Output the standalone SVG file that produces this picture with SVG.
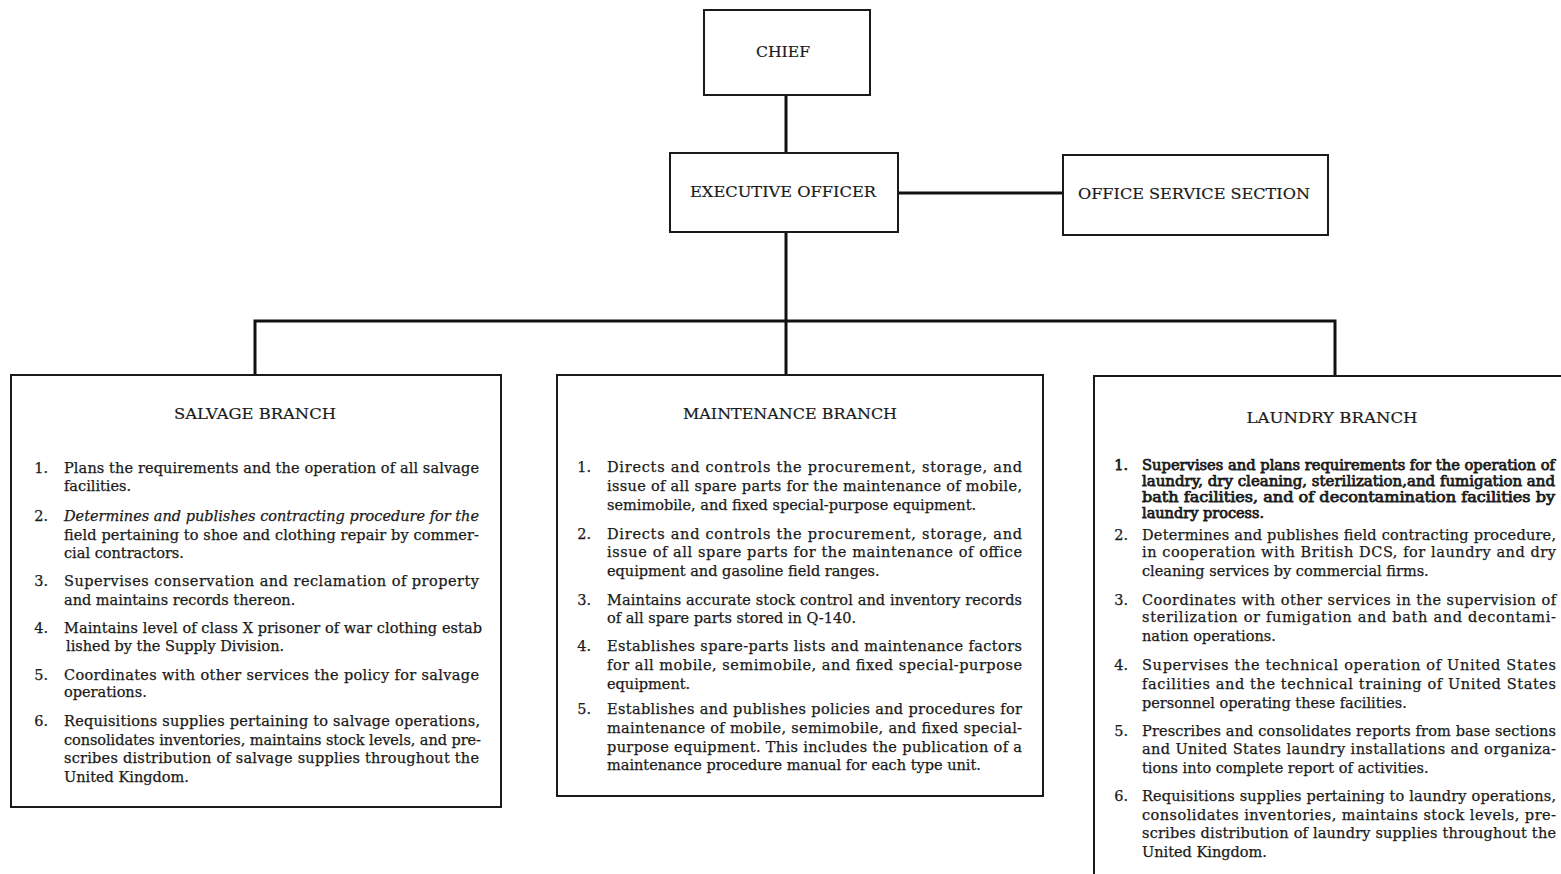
<svg xmlns="http://www.w3.org/2000/svg" width="1561" height="874" viewBox="0 0 1561 874">
  <style>
    .box { fill: none; stroke: #1a1a1a; stroke-width: 2; }
    .wire { fill: none; stroke: #111; stroke-width: 3; }
    .head { font-family: "DejaVu Serif", "Liberation Serif", serif; font-size: 15px; fill: #1a1a1a; text-anchor: middle; stroke: #1a1a1a; stroke-width: 0.2; }
    .t { font-family: "DejaVu Serif", "Liberation Serif", serif; font-size: 14.5px; fill: #1a1a1a; stroke: #1a1a1a; stroke-width: 0.25; }
    .n { font-family: "DejaVu Serif", "Liberation Serif", serif; font-size: 14.5px; fill: #1a1a1a; text-anchor: end; stroke: #1a1a1a; stroke-width: 0.25; }
    .b { stroke-width: 0.75; }
    .i { font-style: italic; }
  </style>
  <rect width="1561" height="874" fill="#ffffff"/>

  <!-- connectors -->
  <g id="connectors">
    <line class="wire" x1="786" y1="95" x2="786" y2="153"/>
    <line class="wire" x1="898" y1="193" x2="1063" y2="193"/>
    <line class="wire" x1="786" y1="232" x2="786" y2="375"/>
    <polyline class="wire" points="255,375 255,321 1335,321 1335,376"/>
  </g>

  <!-- top level -->
  <g id="chief">
    <rect class="box" x="704" y="10" width="166" height="85"/>
    <text class="head" x="783" y="57" textLength="54" lengthAdjust="spacingAndGlyphs">CHIEF</text>
  </g>
  <g id="executive-officer">
    <rect class="box" x="670" y="153" width="228" height="79"/>
    <text class="head" x="783" y="197" textLength="186" lengthAdjust="spacingAndGlyphs">EXECUTIVE OFFICER</text>
  </g>
  <g id="office-service-section">
    <rect class="box" x="1063" y="155" width="265" height="80"/>
    <text class="head" x="1194" y="199" textLength="232" lengthAdjust="spacingAndGlyphs">OFFICE SERVICE SECTION</text>
  </g>

  <!-- salvage branch -->
  <g id="salvage-branch">
    <rect class="box" x="11" y="375" width="490" height="432"/>
    <text class="head" x="255" y="419" textLength="162" lengthAdjust="spacingAndGlyphs">SALVAGE BRANCH</text>
    <text class="n" x="48" y="473">1.</text>
    <text class="t" x="64" y="473" textLength="415">Plans the requirements and the operation of all salvage</text>
    <text class="t" x="64" y="491">facilities.</text>
    <text class="n" x="48" y="521">2.</text>
    <text class="t i" x="64" y="521" textLength="415">Determines and publishes contracting procedure for the</text>
    <text class="t" x="64" y="540" textLength="415">field pertaining to shoe and clothing repair by commer-</text>
    <text class="t" x="64" y="558">cial contractors.</text>
    <text class="n" x="48" y="586">3.</text>
    <text class="t" x="64" y="586" textLength="415">Supervises conservation and reclamation of property</text>
    <text class="t" x="64" y="605">and maintains records thereon.</text>
    <text class="n" x="48" y="633">4.</text>
    <text class="t" x="64" y="633" textLength="418">Maintains level of class X prisoner of war clothing estab</text>
    <text class="t" x="66" y="651">lished by the Supply Division.</text>
    <text class="n" x="48" y="680">5.</text>
    <text class="t" x="64" y="680" textLength="415">Coordinates with other services the policy for salvage</text>
    <text class="t" x="64" y="697">operations.</text>
    <text class="n" x="48" y="726">6.</text>
    <text class="t" x="64" y="726" textLength="416">Requisitions supplies pertaining to salvage operations,</text>
    <text class="t" x="64" y="745" textLength="417">consolidates inventories, maintains stock levels, and pre-</text>
    <text class="t" x="64" y="763" textLength="415">scribes distribution of salvage supplies throughout the</text>
    <text class="t" x="64" y="782">United Kingdom.</text>
  </g>

  <!-- maintenance branch -->
  <g id="maintenance-branch">
    <rect class="box" x="557" y="375" width="486" height="421"/>
    <text class="head" x="790" y="419" textLength="214" lengthAdjust="spacingAndGlyphs">MAINTENANCE BRANCH</text>
    <text class="n" x="591" y="472">1.</text>
    <text class="t" x="607" y="472" textLength="415">Directs and controls the procurement, storage, and</text>
    <text class="t" x="607" y="491" textLength="415">issue of all spare parts for the maintenance of mobile,</text>
    <text class="t" x="607" y="510">semimobile, and fixed special-purpose equipment.</text>
    <text class="n" x="591" y="539">2.</text>
    <text class="t" x="607" y="539" textLength="415">Directs and controls the procurement, storage, and</text>
    <text class="t" x="607" y="557" textLength="415">issue of all spare parts for the maintenance of office</text>
    <text class="t" x="607" y="576">equipment and gasoline field ranges.</text>
    <text class="n" x="591" y="605">3.</text>
    <text class="t" x="607" y="605" textLength="415">Maintains accurate stock control and inventory records</text>
    <text class="t" x="607" y="623">of all spare parts stored in Q-140.</text>
    <text class="n" x="591" y="651">4.</text>
    <text class="t" x="607" y="651" textLength="415">Establishes spare-parts lists and maintenance factors</text>
    <text class="t" x="607" y="670" textLength="415">for all mobile, semimobile, and fixed special-purpose</text>
    <text class="t" x="607" y="689">equipment.</text>
    <text class="n" x="591" y="714">5.</text>
    <text class="t" x="607" y="714" textLength="415">Establishes and publishes policies and procedures for</text>
    <text class="t" x="607" y="733" textLength="415">maintenance of mobile, semimobile, and fixed special-</text>
    <text class="t" x="607" y="752" textLength="415">purpose equipment. This includes the publication of a</text>
    <text class="t" x="607" y="770">maintenance procedure manual for each type unit.</text>
  </g>

  <!-- laundry branch (runs off the right and bottom edges) -->
  <g id="laundry-branch">
    <rect class="box" x="1094" y="376" width="500" height="530"/>
    <text class="head" x="1332" y="423" textLength="171" lengthAdjust="spacingAndGlyphs">LAUNDRY BRANCH</text>
    <text class="n b" x="1128" y="470">1.</text>
    <text class="t b" x="1142" y="470" textLength="413" lengthAdjust="spacingAndGlyphs">Supervises and plans requirements for the operation of</text>
    <text class="t b" x="1142" y="486" textLength="413" lengthAdjust="spacingAndGlyphs">laundry, dry cleaning, sterilization,and fumigation and</text>
    <text class="t b" x="1142" y="502" textLength="413" lengthAdjust="spacingAndGlyphs">bath facilities, and of decontamination facilities by</text>
    <text class="t b" x="1142" y="518">laundry process.</text>
    <text class="n" x="1128" y="540">2.</text>
    <text class="t" x="1142" y="540" textLength="414">Determines and publishes field contracting procedure,</text>
    <text class="t" x="1142" y="557" textLength="414">in cooperation with British DCS, for laundry and dry</text>
    <text class="t" x="1142" y="576">cleaning services by commercial firms.</text>
    <text class="n" x="1128" y="605">3.</text>
    <text class="t" x="1142" y="605" textLength="414">Coordinates with other services in the supervision of</text>
    <text class="t" x="1142" y="622" textLength="414">sterilization or fumigation and bath and decontami-</text>
    <text class="t" x="1142" y="641">nation operations.</text>
    <text class="n" x="1128" y="670">4.</text>
    <text class="t" x="1142" y="670" textLength="414">Supervises the technical operation of United States</text>
    <text class="t" x="1142" y="689" textLength="414">facilities and the technical training of United States</text>
    <text class="t" x="1142" y="708">personnel operating these facilities.</text>
    <text class="n" x="1128" y="736">5.</text>
    <text class="t" x="1142" y="736" textLength="414">Prescribes and consolidates reports from base sections</text>
    <text class="t" x="1142" y="754" textLength="414">and United States laundry installations and organiza-</text>
    <text class="t" x="1142" y="773">tions into complete report of activities.</text>
    <text class="n" x="1128" y="801">6.</text>
    <text class="t" x="1142" y="801" textLength="414">Requisitions supplies pertaining to laundry operations,</text>
    <text class="t" x="1142" y="820" textLength="414">consolidates inventories, maintains stock levels, pre-</text>
    <text class="t" x="1142" y="838" textLength="414">scribes distribution of laundry supplies throughout the</text>
    <text class="t" x="1142" y="857">United Kingdom.</text>
  </g>
</svg>
